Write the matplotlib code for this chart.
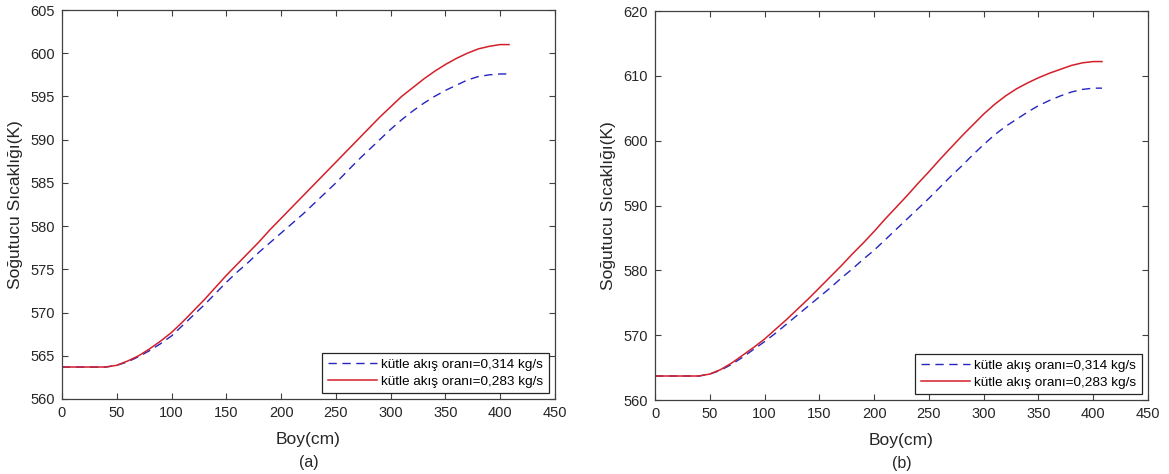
import matplotlib.pyplot as plt

plt.rcParams["font.family"] = ["Liberation Sans", "DejaVu Sans"]

boy = [0, 10, 20, 30, 40, 50, 60, 70, 80, 90, 100, 110, 120, 130, 140, 150,
       160, 170, 180, 190, 200, 210, 220, 230, 240, 250, 260, 270, 280, 290,
       300, 310, 320, 330, 340, 350, 360, 370, 380, 390, 400, 408]

# (a)
a_314 = [563.7, 563.7, 563.7, 563.7, 563.7, 563.9, 564.3, 564.9, 565.6, 566.4,
         567.3, 568.5, 569.7, 570.9, 572.2, 573.5, 574.7, 575.8, 577.0, 578.1,
         579.2, 580.3, 581.4, 582.6, 583.8, 585.0, 586.3, 587.6, 588.8, 590.0,
         591.2, 592.3, 593.3, 594.2, 595.0, 595.7, 596.3, 596.9, 597.3, 597.5,
         597.6, 597.6]
a_283 = [563.7, 563.7, 563.7, 563.7, 563.7, 563.9, 564.4, 565.0, 565.8, 566.7,
         567.7, 568.9, 570.2, 571.5, 572.9, 574.3, 575.6, 576.9, 578.2, 579.6,
         580.9, 582.2, 583.5, 584.8, 586.1, 587.4, 588.7, 590.0, 591.3, 592.6,
         593.8, 595.0, 596.0, 597.0, 597.9, 598.7, 599.4, 600.0, 600.5, 600.8,
         601.0, 601.0]

# (b)
b_314 = [563.7, 563.7, 563.7, 563.7, 563.7, 564.0, 564.6, 565.5, 566.6, 567.8,
         569.0, 570.3, 571.7, 573.1, 574.5, 575.9, 577.3, 578.8, 580.2, 581.7,
         583.1, 584.7, 586.3, 587.9, 589.5, 591.1, 592.8, 594.5, 596.1, 597.8,
         599.4, 600.9, 602.2, 603.3, 604.4, 605.4, 606.2, 606.9, 607.5, 607.9,
         608.1, 608.1]
b_283 = [563.7, 563.7, 563.7, 563.7, 563.7, 564.0, 564.7, 565.7, 566.9, 568.1,
         569.4, 570.9, 572.4, 574.0, 575.6, 577.3, 579.0, 580.7, 582.5, 584.2,
         586.0, 587.9, 589.7, 591.5, 593.4, 595.2, 597.1, 598.9, 600.7, 602.4,
         604.1, 605.6, 606.9, 608.0, 608.9, 609.7, 610.4, 611.0, 611.6, 612.0,
         612.2, 612.2]

labels = ["kütle akış oranı=0,314 kg/s", "kütle akış oranı=0,283 kg/s"]

fig = plt.figure(figsize=(11.69, 4.74), dpi=100)
ax1 = fig.add_axes([62 / 1169, 1 - 399 / 474, 493 / 1169, 389 / 474])
ax2 = fig.add_axes([655 / 1169, 1 - 400 / 474, 493 / 1169, 389 / 474])

panels = [(ax1, a_314, a_283, (560, 605), range(560, 606, 5), "(a)"),
          (ax2, b_314, b_283, (560, 620), range(560, 621, 10), "(b)")]

edge = "#404040"
for ax, blue, red, ylim, yt, tag in panels:
    ax.plot(boy, blue, color="#2525c0", linestyle=(0, (6, 4)), linewidth=1.0, label=labels[0])
    ax.plot(boy, red, color="#d41f2a", linewidth=1.1, label=labels[1])
    ax.set_xlim(0, 450)
    ax.set_ylim(*ylim)
    ax.set_xticks(range(0, 451, 50))
    ax.set_yticks(list(yt))
    ax.tick_params(direction="in", top=True, right=True, length=4, width=0.8,
                   colors=edge, labelcolor="#262626", labelsize=10.5, pad=5)
    for s in ax.spines.values():
        s.set_color(edge)
        s.set_linewidth(0.9)
    ax.set_xlabel("Boy(cm)", fontsize=12.5, color="#262626", labelpad=9)
    ax.set_ylabel("Soğutucu Sıcaklığı(K)", fontsize=12.5, color="#262626", labelpad=5)
    ax.text(0.5, -0.162, tag, transform=ax.transAxes, ha="center", va="center",
            fontsize=11.5, color="#262626")
    leg = ax.legend(loc="lower right", fontsize=9.7, fancybox=False, framealpha=1,
                    edgecolor="#262626", borderpad=0.4, handlelength=3.7,
                    handletextpad=0.3, labelspacing=0.3, borderaxespad=0.45)
    leg.get_frame().set_linewidth(0.9)

fig.savefig("out.png", dpi=100)
